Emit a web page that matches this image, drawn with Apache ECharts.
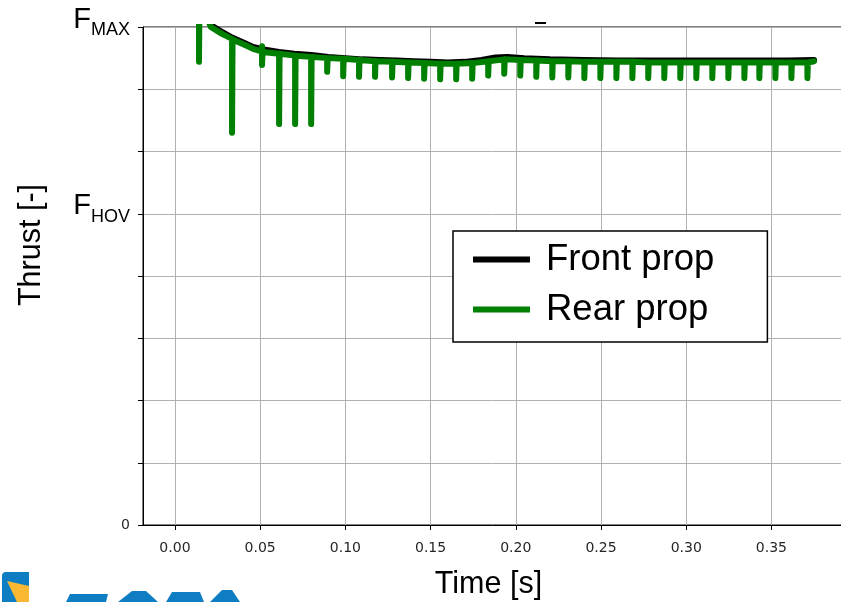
<!DOCTYPE html>
<html><head><meta charset="utf-8">
<script src="https://cdn.jsdelivr.net/npm/echarts@6/dist/echarts.min.js"></script>
<style>html,body{margin:0;padding:0;background:#fff}#c{width:841px;height:602px}</style>
</head><body><div id="c"></div>
<script>
// ---- data ----
const xTicks = [0, 0.05, 0.10, 0.15, 0.20, 0.25, 0.30, 0.35];
const yTickNames = {0: '{z|0}', 5: '{f|F}{s|HOV}', 8: '{f|F}{s|MAX}'};
const seriesNames = ['Front prop', 'Rear prop'];

// Rear prop (green): time [s]
const rearT = [
  0.0000, 0.0141, 0.0141, 0.0144, 0.0211, 0.0276, 0.0335, 0.0335, 0.0338, 0.0411, 0.0458,
  0.0508, 0.0511, 0.0511, 0.0514,
  0.0611, 0.0611, 0.0614, 0.0705, 0.0705, 0.0708, 0.0799, 0.0799, 0.0802,
  0.0893, 0.0893, 0.0896, 0.0987, 0.0987, 0.0990, 0.1080, 0.1080, 0.1083,
  0.1174, 0.1174, 0.1177, 0.1274, 0.1274, 0.1277, 0.1368, 0.1368, 0.1371,
  0.1462, 0.1462, 0.1465, 0.1556, 0.1556, 0.1559, 0.1650, 0.1650, 0.1653,
  0.1744, 0.1744, 0.1747, 0.1838, 0.1838, 0.1841, 0.1932, 0.1932, 0.1935,
  0.2026, 0.2026, 0.2029, 0.2120, 0.2120, 0.2123, 0.2214, 0.2214, 0.2217,
  0.2308, 0.2308, 0.2311, 0.2402, 0.2402, 0.2405, 0.2496, 0.2496, 0.2499,
  0.2590, 0.2590, 0.2593, 0.2684, 0.2684, 0.2687, 0.2777, 0.2777, 0.2780,
  0.2871, 0.2871, 0.2874, 0.2965, 0.2965, 0.2968, 0.3059, 0.3059, 0.3062,
  0.3153, 0.3153, 0.3156, 0.3247, 0.3247, 0.3250, 0.3341, 0.3341, 0.3344,
  0.3429, 0.3429, 0.3432, 0.3523, 0.3523, 0.3526, 0.3617, 0.3617, 0.3620,
  0.3711, 0.3711, 0.3714, 0.3750
];
// Rear prop (green): thrust, in grid units (0 .. F_HOV=5 .. F_MAX=8)
const rearF = [
  8.90, 8.45, 7.44, 8.44, 8.00, 7.89, 7.81, 6.30, 7.80, 7.71, 7.65,
  7.61, 7.69, 7.39, 7.60,
  7.57, 6.44, 7.57, 7.54, 6.44, 7.54, 7.52, 6.44, 7.52,
  7.50, 7.28, 7.50, 7.49, 7.21, 7.49, 7.47, 7.20, 7.47,
  7.45, 7.20, 7.45, 7.44, 7.19, 7.44, 7.43, 7.18, 7.43,
  7.42, 7.17, 7.42, 7.41, 7.16, 7.41, 7.41, 7.16, 7.41,
  7.42, 7.17, 7.42, 7.45, 7.22, 7.45, 7.48, 7.25, 7.48,
  7.47, 7.22, 7.47, 7.46, 7.20, 7.46, 7.45, 7.19, 7.45,
  7.45, 7.19, 7.45, 7.44, 7.18, 7.44, 7.44, 7.18, 7.44,
  7.44, 7.18, 7.44, 7.44, 7.18, 7.44, 7.43, 7.18, 7.43,
  7.43, 7.18, 7.43, 7.43, 7.18, 7.43, 7.43, 7.18, 7.43,
  7.43, 7.18, 7.43, 7.43, 7.18, 7.43, 7.43, 7.18, 7.43,
  7.43, 7.18, 7.43, 7.43, 7.18, 7.43, 7.43, 7.18, 7.43,
  7.43, 7.18, 7.43, 7.45
];
// Front prop (black)
const frontT = [0.000, 0.014, 0.0211, 0.0276, 0.0335, 0.0411, 0.0458, 0.052, 0.061, 0.070, 0.080,
  0.090, 0.100, 0.110, 0.120, 0.130, 0.140, 0.150, 0.160, 0.170, 0.180, 0.188, 0.195, 0.205,
  0.220, 0.240, 0.260, 0.280, 0.300, 0.320, 0.340, 0.360, 0.375];
const frontF = [8.93, 8.47, 8.03, 7.92, 7.83, 7.74, 7.68, 7.64, 7.60, 7.57, 7.55,
  7.52, 7.50, 7.48, 7.47, 7.46, 7.45, 7.44, 7.43, 7.44, 7.47, 7.51, 7.52, 7.50,
  7.48, 7.47, 7.46, 7.46, 7.46, 7.46, 7.46, 7.46, 7.47];

const xMin = -0.01875, xMax = 0.39375;

const zip = (a, b) => a.map((t, i) => [t, b[i]]);
const chart = echarts.init(document.getElementById('c'), null, {renderer: 'canvas'});
const arial = '"Liberation Sans", Arial, sans-serif';
chart.setOption({
  animation: false,
  backgroundColor: '#fff',
  grid: {left: 143, top: 27, width: 703, height: 498, show: true, borderColor: '#000',
         borderWidth: 1, backgroundColor: 'transparent', containLabel: false, outerBoundsMode: 'none'},
  xAxis: {
    type: 'value', min: xMin, max: xMax,
    name: 'Time [s]', nameLocation: 'middle', nameGap: 44,
    nameTextStyle: {fontFamily: arial, fontSize: 30.5, color: '#000', padding: [0, 12, 0, 0]},
    axisLine: {show: true, onZero: false, lineStyle: {color: '#000', width: 1}},
    axisTick: {show: true, customValues: xTicks, length: 5, lineStyle: {color: '#000', width: 1}},
    axisLabel: {customValues: xTicks, formatter: v => v.toFixed(2), margin: 16,
                fontFamily: '"DejaVu Sans"', fontSize: 14, color: '#262626'},
    splitLine: {show: true, lineStyle: {color: '#b0b0b0', width: 1}}
  },
  yAxis: {
    type: 'value', min: 0, max: 8, interval: 1,
    axisLine: {show: true, onZero: false, lineStyle: {color: '#000', width: 1}},
    axisTick: {show: true, length: 5, lineStyle: {color: '#000', width: 1}},
    axisLabel: {
      formatter: v => (yTickNames[v] !== undefined ? yTickNames[v] : ''),
      margin: 13, fontFamily: '"DejaVu Sans"', fontSize: 14, color: '#262626',
      padding: [0, 0, 15, 0],
      rich: {
        z: {fontFamily: '"DejaVu Sans"', fontSize: 14, color: '#262626', lineHeight: 16, padding: [15, 0, 0, 0]},
        f: {fontFamily: arial, fontSize: 29, color: '#000', lineHeight: 40},
        s: {fontFamily: arial, fontSize: 18, color: '#000', lineHeight: 18, verticalAlign: 'bottom'}
      }
    },
    splitLine: {show: true, lineStyle: {color: '#b0b0b0', width: 1}}
  },
  legend: {
    show: true, orient: 'vertical', left: 453, top: 231,
    padding: [10, 53, 14, 20], itemGap: 13, itemWidth: 57, itemHeight: 6,
    icon: 'rect', backgroundColor: '#fff', borderColor: '#000', borderWidth: 1.5, borderRadius: 0,
    textStyle: {fontFamily: arial, fontSize: 36.5, color: '#000', padding: [0, 0, 0, 11]},
    data: seriesNames
  },
  series: [
    {name: seriesNames[0], type: 'line', data: zip(frontT, frontF), showSymbol: false, clip: true,
     color: '#000', lineStyle: {color: '#000', width: 6, cap: 'round', join: 'round'}, z: 2},
    {name: seriesNames[1], type: 'line', data: zip(rearT, rearF), showSymbol: false, clip: true,
     color: '#008000', lineStyle: {color: '#008000', width: 6, cap: 'round', join: 'round'}, z: 3}
  ],
  graphic: [
    {type: 'text', x: 32, y: 245, rotation: Math.PI / 2,
     style: {text: 'Thrust [-]', font: '30.5px "Liberation Sans", Arial, sans-serif', fill: '#000',
             align: 'center', verticalAlign: 'middle'}},
    {type: 'rect', shape: {x: 535, y: 22, width: 11, height: 2}, style: {fill: '#000'}},
    {type: 'rect', shape: {x: 2, y: 572, width: 27, height: 32, r: [4, 0, 0, 0]}, style: {fill: '#0f7dc2'}},
    {type: 'polygon', shape: {points: [[7, 581], [29, 586], [29, 602], [17, 602]]}, style: {fill: '#fbb833'}},
    {type: 'polygon', shape: {points: [[66, 602], [70, 594], [108, 594], [106, 602]]}, style: {fill: '#0f7dc2'}},
    {type: 'polygon', shape: {points: [[118, 602], [132, 591], [146, 591], [158, 602]]}, style: {fill: '#0f7dc2'}},
    {type: 'polygon', shape: {points: [[166, 602], [172, 592], [200, 592], [204, 602]]}, style: {fill: '#0f7dc2'}},
    {type: 'polygon', shape: {points: [[210, 602], [222, 590], [232, 590], [240, 602]]}, style: {fill: '#0f7dc2'}}
  ]
});
</script></body></html>
